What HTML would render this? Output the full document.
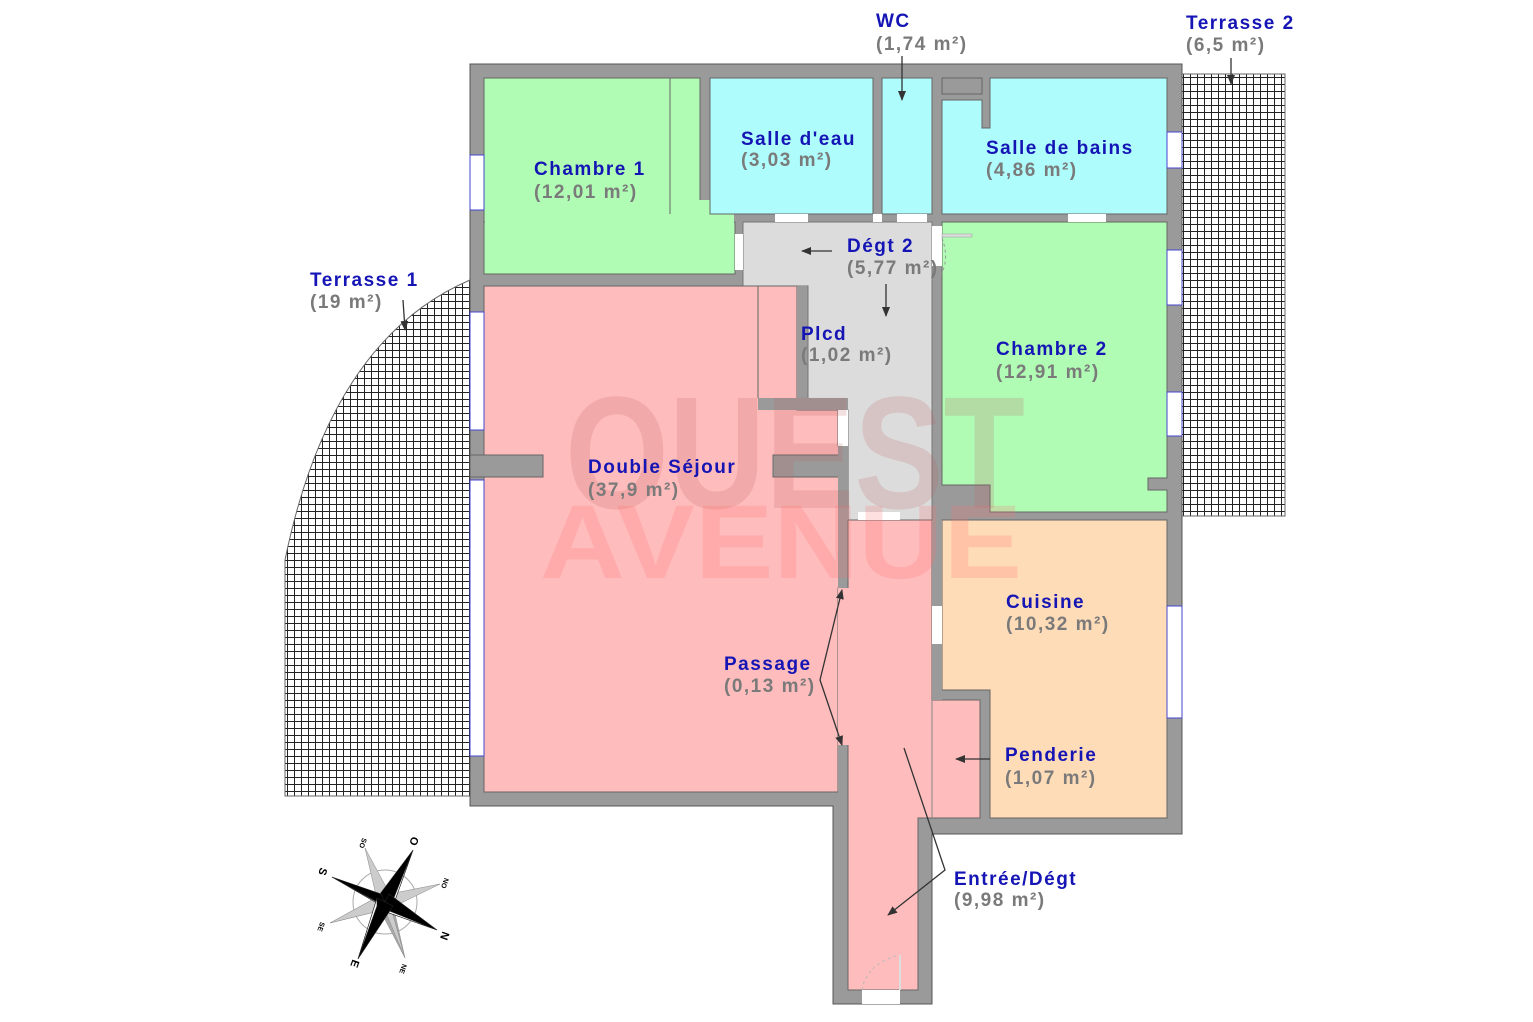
<!DOCTYPE html>
<html><head><meta charset="utf-8"><style>
html,body{margin:0;padding:0;background:#fff}
svg{display:block}
.b{font-family:"Liberation Sans",sans-serif;font-weight:bold;font-size:19px;fill:#1515b5;letter-spacing:1.5px}
.g{font-family:"Liberation Sans",sans-serif;font-weight:bold;font-size:19px;fill:#7a7a7a;letter-spacing:1.5px}
</style></head><body>
<svg width="1533" height="1022" viewBox="0 0 1533 1022" xmlns="http://www.w3.org/2000/svg">
<defs>
<pattern id="grid" width="7" height="7" patternUnits="userSpaceOnUse">
<rect width="7" height="7" fill="#fff"/>
<path d="M0 0.5H7M0.5 0V7" stroke="#222" stroke-width="1"/>
</pattern>
<marker id="ah" markerWidth="10" markerHeight="10" refX="9" refY="5" orient="auto" markerUnits="userSpaceOnUse"><path d="M0,1 L10,5 L0,9 z" fill="#333"/></marker>
</defs>
<rect x="1182" y="74" width="103" height="442" fill="url(#grid)" stroke="#666"/>
<path d="M470,280 Q330,340 285,560 L285,796 L470,796 Z" fill="url(#grid)" stroke="#666"/>
<polygon points="470,64 1182,64 1182,834 932,834 932,1004 833,1004 833,806 470,806" fill="#9a9a9a" stroke="#555"/>
<g fill="#b0fcb4" stroke="#666" stroke-width="1">
<rect x="484" y="78" width="186" height="196"/>
<rect x="670" y="78" width="30" height="136"/>
<rect x="484" y="222" width="251" height="52"/>
</g>
<rect x="485" y="200" width="249" height="73" fill="#b0fcb4"/>
<rect x="485" y="79" width="200" height="140" fill="#b0fcb4"/>
<line x1="670" y1="78" x2="670" y2="214" stroke="#666"/>
<rect x="710" y="78" width="163" height="136" fill="#aefcfc" stroke="#666"/>
<rect x="882" y="78" width="50" height="136" fill="#aefcfc" stroke="#666"/>
<path d="M990,78 H1167 V214 H942 V100 H982 V128 H990 Z" fill="#aefcfc" stroke="#666"/>
<rect x="942" y="78" width="40" height="16" fill="#9a9a9a" stroke="#666"/>
<path d="M743,222 H932 V520 H848 V410 H808 V286 H743 Z" fill="#dcdcdc" stroke="#777"/>
<rect x="797" y="286" width="10" height="120" fill="#9a9a9a"/>
<path d="M942,222 H1167 V478 H1148 V490 H1167 V512 H990 V485 H942 Z" fill="#b0fcb4" stroke="#666"/>
<path d="M484,286 H797 V410 H838 V446 H848 V588 H838 V745 H838 V792 H484 Z" fill="#ffbcbc" stroke="#666"/>
<rect x="758" y="398" width="90" height="12" fill="#9a9a9a"/>
<rect x="797" y="286" width="10" height="118" fill="#9a9a9a"/>
<line x1="758" y1="286" x2="758" y2="398" stroke="#666"/>
<rect x="470" y="455" width="73" height="22" fill="#9a9a9a" stroke="#666"/>
<rect x="773" y="455" width="75" height="22" fill="#9a9a9a" stroke="#666"/>
<rect x="838" y="446" width="10" height="142" fill="#9a9a9a"/>
<rect x="838" y="745" width="10" height="61" fill="#9a9a9a"/>
<path d="M848,520 H932 V700 H980 V818 H918 V990 H848 Z" fill="#ffbcbc" stroke="#666"/>
<rect x="838" y="588" width="12" height="157" fill="#ffbcbc"/>
<path d="M942,520 H1167 V818 H990 V690 H942 Z" fill="#ffdcb8" stroke="#666"/>
<rect x="932" y="520" width="10" height="86" fill="#9a9a9a"/>
<rect x="932" y="644" width="10" height="56" fill="#9a9a9a"/>
<rect x="932" y="606" width="10" height="38" fill="#fff"/>
<line x1="932" y1="700" x2="932" y2="818" stroke="#888"/>
<g fill="#fff">
<rect x="735" y="234" width="8" height="36"/>
<rect x="775" y="214" width="33" height="8"/>
<rect x="873" y="214" width="9" height="8"/><rect x="897" y="214" width="30" height="8"/>
<rect x="1068" y="214" width="38" height="8"/>
<rect x="932" y="226" width="10" height="40"/>
<rect x="838" y="410" width="10" height="36"/>
<rect x="858" y="512" width="42" height="8"/>
<rect x="862" y="990" width="38" height="14"/>
</g>
<path d="M942,238 Q950,260 940,276" fill="none" stroke="#999" stroke-dasharray="3,3"/>
<rect x="942" y="234" width="30" height="3" fill="#ddd" stroke="#999" stroke-width=".5"/>
<path d="M862,990 Q866,965 898,955" fill="none" stroke="#bbb" stroke-dasharray="3,3"/>
<line x1="900" y1="955" x2="900" y2="990" stroke="#ddd" stroke-width="2"/>
<g fill="#fff" stroke="#4444cc" stroke-width="1">
<rect x="470" y="155" width="14" height="55"/>
<rect x="470" y="312" width="14" height="118"/>
<rect x="470" y="480" width="14" height="276"/>
<rect x="1167" y="132" width="15" height="36"/>
<rect x="1167" y="250" width="15" height="55"/>
<rect x="1167" y="392" width="15" height="44"/>
<rect x="1167" y="606" width="15" height="112"/>
</g>
<text x="565" y="508" textLength="460" lengthAdjust="spacingAndGlyphs" font-family="Liberation Sans,sans-serif" font-weight="bold" font-size="160" fill="#c06060" fill-opacity="0.2">OUEST</text>
<text x="540" y="578" textLength="482" lengthAdjust="spacingAndGlyphs" font-family="Liberation Sans,sans-serif" font-weight="bold" font-size="105" fill="#ff7070" fill-opacity="0.22">AVENUE</text>
<g stroke="#333" stroke-width="1.3" fill="none" marker-end="url(#ah)">
<line x1="902" y1="56" x2="902" y2="100"/>
<line x1="1231" y1="58" x2="1231" y2="84"/>
<line x1="403" y1="300" x2="405" y2="330"/>
<line x1="832" y1="251" x2="802" y2="251"/>
<line x1="886" y1="284" x2="886" y2="316"/>
<line x1="990" y1="759" x2="956" y2="759"/>
<polyline points="820,680 842,590"/>
<polyline points="820,680 842,745" />
<polyline points="904,748 945,870 888,915"/>
</g>
<text x="876" y="27" class="b">WC</text><text x="876" y="50" class="g">(1,74 m²)</text>
<text x="1186" y="29" class="b">Terrasse 2</text><text x="1186" y="51" class="g">(6,5 m²)</text>
<text x="534" y="175" class="b">Chambre 1</text><text x="534" y="198" class="g">(12,01 m²)</text>
<text x="741" y="145" class="b">Salle d'eau</text><text x="741" y="166" class="g">(3,03 m²)</text>
<text x="986" y="154" class="b">Salle de bains</text><text x="986" y="176" class="g">(4,86 m²)</text>
<text x="847" y="252" class="b">Dégt 2</text><text x="847" y="274" class="g">(5,77 m²)</text>
<text x="310" y="286" class="b">Terrasse 1</text><text x="310" y="308" class="g">(19 m²)</text>
<text x="801" y="340" class="b">Plcd</text><text x="801" y="361" class="g">(1,02 m²)</text>
<text x="996" y="355" class="b">Chambre 2</text><text x="996" y="378" class="g">(12,91 m²)</text>
<text x="588" y="473" class="b">Double Séjour</text><text x="588" y="496" class="g">(37,9 m²)</text>
<text x="1006" y="608" class="b">Cuisine</text><text x="1006" y="630" class="g">(10,32 m²)</text>
<text x="724" y="670" class="b">Passage</text><text x="724" y="692" class="g">(0,13 m²)</text>
<text x="1005" y="761" class="b">Penderie</text><text x="1005" y="784" class="g">(1,07 m²)</text>
<text x="954" y="885" class="b">Entrée/Dégt</text><text x="954" y="906" class="g">(9,98 m²)</text>
<g transform="translate(385,902)">
<circle r="32" fill="none" stroke="#aaa" stroke-width="1"/>
<g fill="#aaa" stroke="#888" stroke-width=".5">
<polygon points="-20,-54 -6,-6 6,6" /><polygon points="-20,-54 6,-6 -6,6" fill="#ccc"/>
<polygon points="55,-18 6,-6 -6,6"/><polygon points="55,-18 6,6 -6,-6" fill="#ccc"/>
<polygon points="-55,21 -6,-6 6,6"/><polygon points="-55,21 6,6 -6,-6" fill="#ccc"/>
<polygon points="20,56 -6,6 6,-6"/><polygon points="20,56 6,6 -6,-6" fill="#ccc"/>
</g>
<g stroke="#222" stroke-width=".6">
<polygon points="28,-52 -8,-4 8,4" fill="#000"/><polygon points="28,-52 8,4 8,-2" fill="#fff"/>
<polygon points="52,28 4,-8 -4,8" fill="#000"/><polygon points="52,28 -4,8 2,8" fill="#fff"/>
<polygon points="-53,-25 -4,-8 4,8" fill="#000"/><polygon points="-53,-25 4,8 -8,0" fill="#fff"/>
<polygon points="-27,57 8,4 -8,-4" fill="#000"/><polygon points="-27,57 -8,-4 -8,4" fill="#fff"/>
</g>
<g font-family="Liberation Sans,sans-serif" font-weight="bold" fill="#000">
<text x="24" y="-56" font-size="11" transform="rotate(110 29 -60)">O</text>
<text x="56" y="38" font-size="11" transform="rotate(110 60 34)">N</text>
<text x="-66" y="-26" font-size="11" transform="rotate(110 -62 -30)">S</text>
<text x="-34" y="66" font-size="11" transform="rotate(110 -30 62)">E</text>
<text x="-26" y="-58" font-size="7" transform="rotate(110 -22 -60)">SO</text>
<text x="56" y="-18" font-size="7" transform="rotate(110 60 -20)">NO</text>
<text x="-68" y="26" font-size="7" transform="rotate(110 -64 24)">SE</text>
<text x="14" y="68" font-size="7" transform="rotate(110 18 66)">NE</text>
</g>
</g>
</svg>
</body></html>
